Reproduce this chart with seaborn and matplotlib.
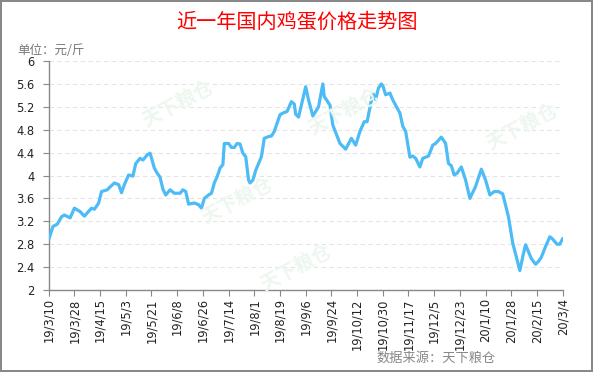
import matplotlib
matplotlib.use("Agg")
import matplotlib.pyplot as plt
import seaborn as sns
import pandas as pd

# days since 2019-03-10
day_offsets = [0, 3, 6, 9, 11, 15, 18, 22, 25, 30, 32, 35, 37, 41, 43, 46, 49, 51, 53, 56,
               59, 61, 64, 66, 69, 71, 74, 76, 78, 80, 82, 85, 88, 92, 94, 96, 98, 102, 105, 107,
               109, 112, 114, 116, 118, 120, 122, 123, 126, 128, 130, 132, 134, 136, 138, 140, 141, 143, 145, 149,
               151, 154, 156, 158, 162, 164, 167, 170, 172, 173, 175, 180, 182, 185, 189, 192, 193, 197, 199, 204,
               208, 212, 215, 218, 221, 223, 227, 229, 231, 233, 234, 236, 239, 241, 246, 248, 250, 253, 255, 257,
               260, 262, 266, 269, 271, 275, 278, 280, 282, 284, 286, 289, 292, 295, 299, 303, 306, 309, 312, 315,
               318, 322, 325, 330, 332, 334, 337, 338, 341, 343, 345, 348, 351, 353, 356, 358, 360]
prices = [2.88, 3.11, 3.15, 3.28, 3.31, 3.26, 3.43, 3.37, 3.29, 3.43, 3.41, 3.52, 3.72, 3.75, 3.80, 3.87, 3.84, 3.70, 3.84, 4.01,
          3.99, 4.21, 4.30, 4.27, 4.36, 4.39, 4.13, 4.04, 3.97, 3.76, 3.66, 3.75, 3.69, 3.69, 3.75, 3.72, 3.50, 3.52, 3.49, 3.43,
          3.60, 3.66, 3.69, 3.87, 3.98, 4.13, 4.19, 4.56, 4.56, 4.49, 4.49, 4.56, 4.55, 4.39, 4.33, 3.92, 3.87, 3.92, 4.09, 4.33,
          4.65, 4.68, 4.69, 4.77, 5.06, 5.09, 5.12, 5.29, 5.25, 5.07, 5.02, 5.55, 5.32, 5.04, 5.20, 5.60, 5.38, 5.23, 4.88, 4.56,
          4.46, 4.65, 4.53, 4.77, 4.94, 4.94, 5.44, 5.33, 5.53, 5.60, 5.57, 5.41, 5.44, 5.32, 5.09, 4.86, 4.77, 4.32, 4.34, 4.30,
          4.15, 4.30, 4.34, 4.53, 4.56, 4.67, 4.56, 4.21, 4.17, 4.01, 4.04, 4.15, 3.92, 3.60, 3.81, 4.11, 3.92, 3.66, 3.72, 3.72,
          3.68, 3.28, 2.82, 2.34, 2.58, 2.79, 2.61, 2.55, 2.45, 2.50, 2.57, 2.76, 2.93, 2.89, 2.80, 2.80, 2.90]

tick_labels = ["19/3/10", "19/3/28", "19/4/15", "19/5/3", "19/5/21", "19/6/8", "19/6/26", "19/7/14",
               "19/8/1", "19/8/19", "19/9/6", "19/9/24", "19/10/12", "19/10/30", "19/11/17", "19/12/5",
               "19/12/23", "20/1/10", "20/1/28", "20/2/15", "20/3/4"]
y_ticks = [2, 2.4, 2.8, 3.2, 3.6, 4, 4.4, 4.8, 5.2, 5.6, 6]
y_tick_labels = ["2", "2.4", "2.8", "3.2", "3.6", "4", "4.4", "4.8", "5.2", "5.6", "6"]

title = "近一年国内鸡蛋价格走势图"
unit = "单位：元/斤"
source = "数据来源：天下粮仓"
watermark = "天下粮仓"

sns.set_theme(style="white")
plt.rcParams['font.family'] = ['Noto Sans CJK SC', 'DejaVu Sans']

df = pd.DataFrame({"day": day_offsets, "price": prices})

fig = plt.figure(figsize=(5.93, 3.72), dpi=100)
fig.patch.set_facecolor("white")
ax = fig.add_axes([0.0821, 0.2204, 0.8668, 0.6156])

# faint watermarks
for (wx, wy) in [(0.30, 0.72), (0.40, 0.46), (0.58, 0.70), (0.88, 0.66), (0.50, 0.28)]:
    fig.text(wx, wy, watermark, fontsize=14, color="#edf7ef", rotation=28,
             ha="center", va="center", fontweight="bold", zorder=0)

sns.lineplot(data=df, x="day", y="price", ax=ax, color="#4DBCF6", linewidth=2.3, zorder=3)
ax.patch.set_alpha(0)

ax.set_xlim(0, 360)
ax.set_ylim(2, 6)
ax.set_xticks(range(0, 361, 18))
ax.set_xticklabels(tick_labels, rotation=90, fontsize=8.3, family="DejaVu Sans", color="#222222")
ax.set_yticks(y_ticks)
ax.set_yticklabels(y_tick_labels, fontsize=8.3, family="DejaVu Sans", color="#222222")
ax.set_xlabel("")
ax.set_ylabel("")

for y in y_ticks[1:]:
    ax.axhline(y, color="#e4e4e4", linewidth=0.8, linestyle=(0, (4, 3)), zorder=1)

for s in ["top", "right"]:
    ax.spines[s].set_visible(False)
for s in ["left", "bottom"]:
    ax.spines[s].set_color("#888888")
    ax.spines[s].set_linewidth(1.0)
ax.tick_params(axis="both", which="major", direction="out", length=4, width=0.8,
               color="#888888", pad=2, bottom=True, left=True)
ax.tick_params(axis="y", pad=6)

fig.text(0.5, 0.94, title, ha="center", va="center", fontsize=14.5, color="#FF0000", fontweight="medium")
fig.text(0.03, 0.865, unit, ha="left", va="center", fontsize=9, color="#777777")
fig.text(0.635, 0.038, source, ha="left", va="center", fontsize=9.5, color="#888888", style="italic")

fig.patch.set_edgecolor("#888888")
fig.patch.set_linewidth(1.5)
fig.savefig("out.png", dpi=100, facecolor="white", edgecolor="#888888")
